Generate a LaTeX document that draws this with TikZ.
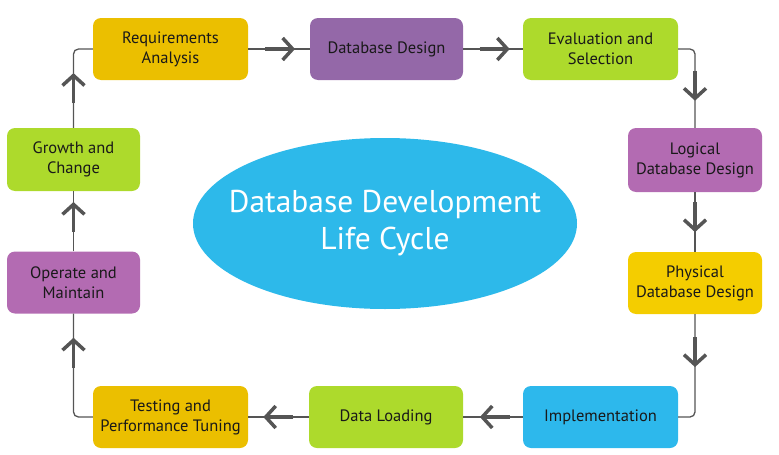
\documentclass[tikz,border=0pt]{standalone}
\usepackage{fontspec}
\setmainfont{PT Sans}
\usetikzlibrary{arrows.meta,shapes.geometric,decorations.markings}

\definecolor{linegray}{HTML}{555555}
\definecolor{goldA}{HTML}{EBBF00}
\definecolor{goldB}{HTML}{F4CD00}
\definecolor{purpA}{HTML}{9468A8}
\definecolor{purpB}{HTML}{B36BB2}
\definecolor{limeA}{HTML}{ADDA2C}
\definecolor{skyA}{HTML}{2DB8EC}
\definecolor{skyB}{HTML}{2DB9EA}

\newcommand{\flowtip}{\draw[linegray, line width=3.5pt, -{Straight Barb[length=10pt,width=22pt]}] (-30pt,0) -- (0,0);}

\tikzset{
  stage/.style={rounded corners=8pt, inner sep=2pt, align=center,
    text=black!90, font=\fontsize{16.5}{20}\selectfont,
    minimum width=155pt, minimum height=62pt},
  narrow/.style={minimum width=134pt},
  flow/.style={draw=linegray, line width=1.3pt, rounded corners=5pt,
    postaction={decorate},
    decoration={markings, mark=at position #1 with {\flowtip}}}
}

\begin{document}
\begin{tikzpicture}[x=1pt,y=-1pt]
  \useasboundingbox (0,0) rectangle (779,455);
  % centre
  \node[ellipse, fill=skyB, minimum width=384pt, minimum height=171pt, inner sep=0pt,
    label={[text=white, align=center, font=\fontsize{31.5}{37}\selectfont]center:Database Development\\Life Cycle}]
    (dbdlc) at (385,223.5) {};
  % stages
  \node[stage, fill=goldA] (req) at (170.5,49) {Requirements\\Analysis};
  \node[stage, fill=purpA, minimum width=153pt] (dbd) at (386.5,49) {Database Design};
  \node[stage, fill=limeA] (eval) at (600.5,49) {Evaluation and\\Selection};
  \node[stage, narrow, fill=purpB, minimum height=64pt] (logic) at (695,160) {Logical\\Database Design};
  \node[stage, narrow, fill=goldB] (phys) at (695,283) {Physical\\Database Design};
  \node[stage, fill=skyA] (impl) at (600.5,417) {Implementation};
  \node[stage, fill=limeA, minimum width=154pt] (load) at (386,417) {Data Loading};
  \node[stage, fill=goldA] (test) at (170.5,417) {Testing and\\Performance Tuning};
  \node[stage, narrow, fill=purpB, minimum width=133pt] (oper) at (73.5,282.5) {Operate and\\Maintain};
  \node[stage, narrow, fill=limeA, minimum width=133pt, minimum height=63pt] (grow) at (73.5,159.5) {Growth and\\Change};
  % connectors
  \draw[flow=0.76] (req.east) -- (dbd.west);
  \draw[flow=0.78] (dbd.east) -- (eval.west);
  \draw[flow=0.71] (eval.east) -| (logic.north);
  \draw[flow=0.67] (logic.south) -- (phys.north);
  \draw[flow=0.45] (phys.south) |- (impl.east);
  \draw[flow=0.72] (impl.west) -- (load.east);
  \draw[flow=0.75] (load.west) -- (test.east);
  \draw[flow=0.80] (test.west) -| (oper.south);
  \draw[flow=0.82] (oper.north) -- (grow.south);
  \draw[flow=0.57] (grow.north) |- (req.west);
\end{tikzpicture}
\end{document}
